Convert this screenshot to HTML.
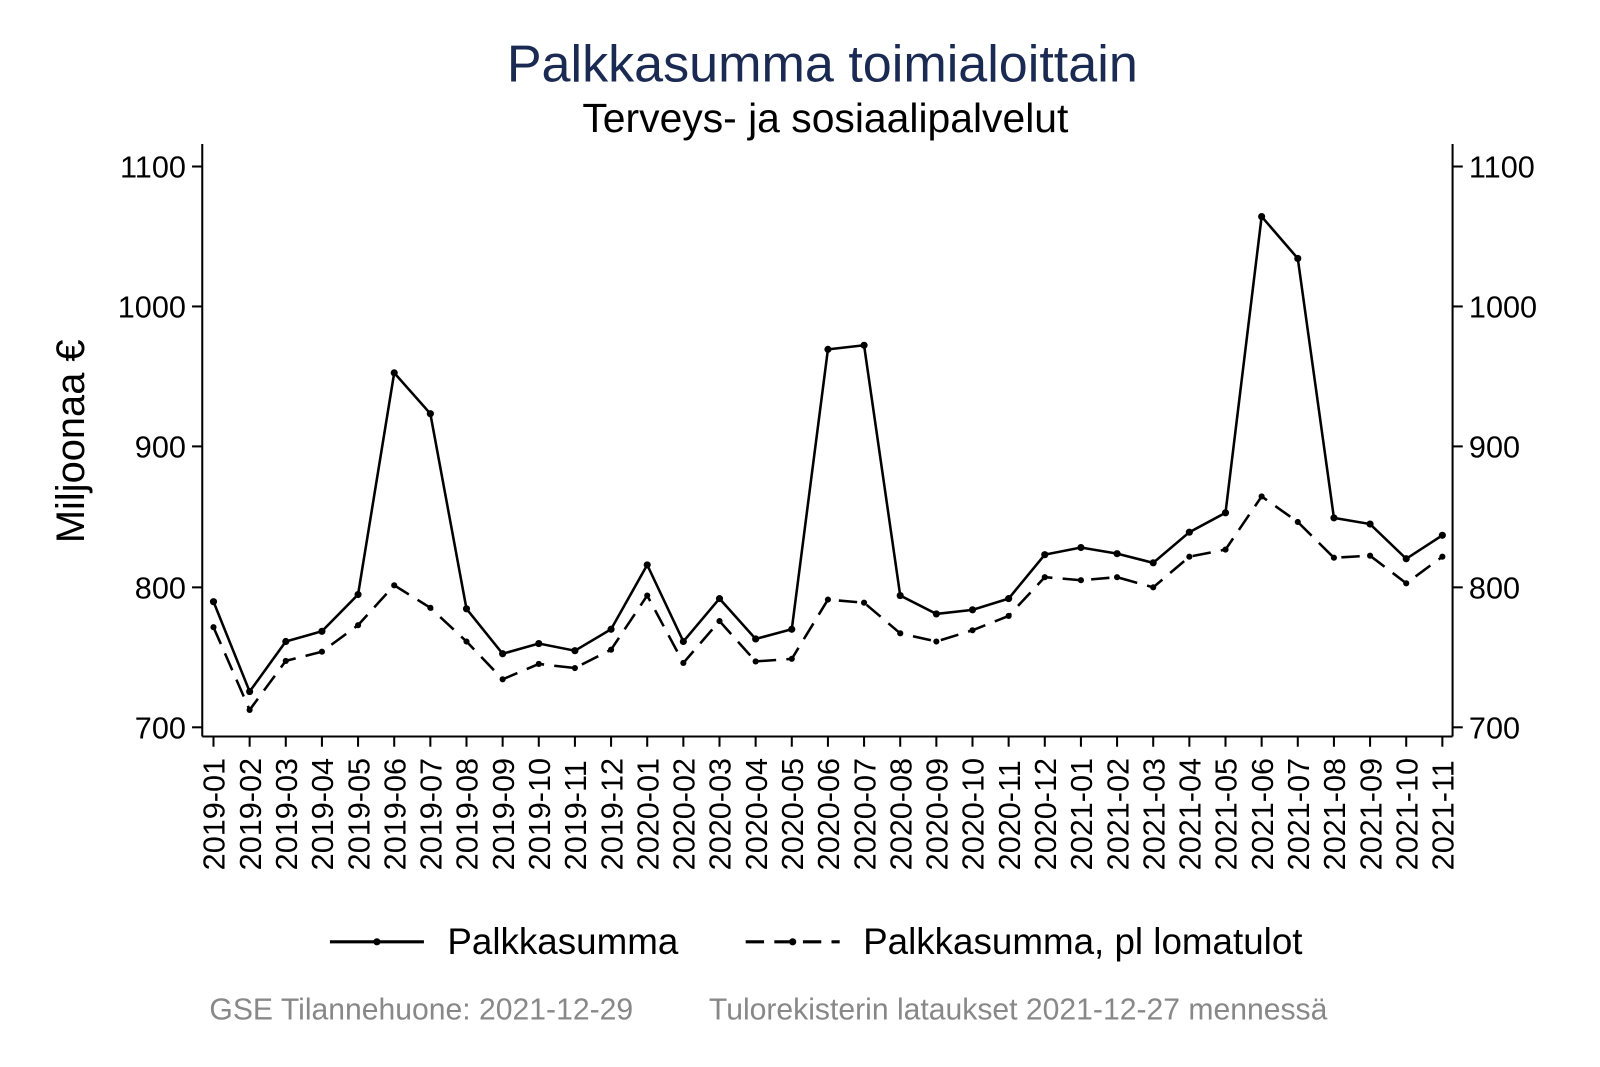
<!DOCTYPE html>
<html><head><meta charset="utf-8"><style>body{margin:0;background:#fff}svg{display:block}</style></head><body>
<svg width="1600" height="1067" xmlns="http://www.w3.org/2000/svg" font-family="Liberation Sans, Arial, sans-serif">
<rect width="1600" height="1067" fill="#fff"/>
<g transform="scale(1.0215)">
<text x="805" y="80" text-anchor="middle" font-size="51" fill="#1a2a52">Palkkasumma toimialoittain</text>
<text x="808" y="129" text-anchor="middle" font-size="40" fill="#000">Terveys- ja sosiaalipalvelut</text>
<g stroke="#000" stroke-width="2" fill="none">
<line x1="198" y1="141" x2="198" y2="721"/>
<line x1="1422" y1="141" x2="1422" y2="721"/>
<line x1="198" y1="721" x2="1422" y2="721"/>
</g>
<g id="ticks" stroke="#000" stroke-width="2"></g>
<g id="labels" font-size="30" fill="#000"></g>
<text transform="translate(82,432) rotate(-90)" text-anchor="middle" font-size="39">Miljoonaa €</text>
<g id="series"></g>
<g font-size="36">
<line x1="323" y1="922" x2="415" y2="922" stroke="#000" stroke-width="3"/><circle cx="369" cy="922" r="3.5"/>
<text x="438" y="934">Palkkasumma</text>
<line x1="730" y1="922" x2="822" y2="922" stroke="#000" stroke-width="3" stroke-dasharray="18,10"/><circle cx="776" cy="922" r="3.5"/>
<text x="845" y="934">Palkkasumma, pl lomatulot</text>
</g>
<text x="205" y="998" font-size="29.5" fill="#888">GSE Tilannehuone: 2021-12-29</text>
<text x="694" y="998" font-size="29.5" fill="#888">Tulorekisterin lataukset 2021-12-27 mennessä</text>
</g>
<script>
const ns="http://www.w3.org/2000/svg";
function el(t,a,p,txt){const e=document.createElementNS(ns,t);for(const k in a)e.setAttribute(k,a[k]);if(txt)e.textContent=txt;document.getElementById(p).appendChild(e);return e;}
const yt=[[1100,163],[1000,300],[900,437],[800,575],[700,712]];
yt.forEach(([v,y])=>{el('line',{x1:188,y1:y,x2:198,y2:y},'ticks');el('line',{x1:1422,y1:y,x2:1432,y2:y},'ticks');
el('text',{x:182,y:y+11,'text-anchor':'end'},'labels',v);el('text',{x:1438,y:y+11},'labels',v);});
const s=[589,677,628,618,582,365,405,596,640,630,637,616,553,628,586,625.5,616,342,338,583,601,597,586,543,536,542,551,521,502,212,253,507,513,547,524];
const d=[614,695,647,638,612,573,595,628,665,650,654,636,583,649,608,647.5,645,587,590,620,628,617,603,565,568,565,575,545,538,486,511,546,544,571,545];
const X=i=>209+i*(1412-209)/34;
for(let i=0;i<35;i++){const y=2019+Math.floor(i/12),m=i%12+1;const x=X(i);
el('line',{x1:x,y1:721,x2:x,y2:731},'ticks');
el('text',{transform:`translate(${x+11},852) rotate(-90)`},'labels',`${y}-${String(m).padStart(2,'0')}`);}
el('polyline',{points:s.map((y,i)=>X(i)+','+y).join(' '),fill:'none',stroke:'#000','stroke-width':2.5},'series');
el('polyline',{points:d.map((y,i)=>X(i)+','+y).join(' '),fill:'none',stroke:'#000','stroke-width':2.5,'stroke-dasharray':'18,10'},'series');
s.forEach((y,i)=>el('circle',{cx:X(i),cy:y,r:3.5},'series'));
d.forEach((y,i)=>el('circle',{cx:X(i),cy:y,r:3},'series'));
</script>
</svg>
</body></html>
